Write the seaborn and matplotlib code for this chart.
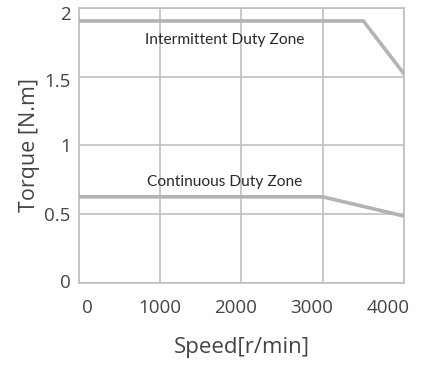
import matplotlib
matplotlib.use("Agg")
import matplotlib.pyplot as plt
import matplotlib.transforms as mtrans
import seaborn as sns
import pandas as pd

# Data
intermittent_speed = [0, 3500, 4000]
intermittent_torque = [1.905, 1.905, 1.52]
continuous_speed = [0, 3000, 4000]
continuous_torque = [0.625, 0.625, 0.485]
x_ticks = [0, 1000, 2000, 3000, 4000]
y_ticks = [0, 0.5, 1, 1.5, 2]
y_tick_labels = ["0", "0.5", "1", "1.5", "2"]

df = pd.concat([
    pd.DataFrame({"speed": intermittent_speed, "torque": intermittent_torque, "zone": "Intermittent"}),
    pd.DataFrame({"speed": continuous_speed, "torque": continuous_torque, "zone": "Continuous"}),
])

sns.set_theme(style="white")
plt.rcParams["font.family"] = ["Open Sans", "DejaVu Sans"]

fig = plt.figure(figsize=(4.22, 3.67), dpi=100)
ax = fig.add_axes([0.1872, 0.2297, 0.7701, 0.7488])

line_color = "#b3b3b3"
grid_color = "#c0c0c0"
text_color = "#444444"

sns.lineplot(data=df, x="speed", y="torque", units="zone", estimator=None,
             color=line_color, linewidth=2.6, ax=ax, legend=False, zorder=3)

ax.set_xlim(0, 4000)
ax.set_ylim(0, 2)
ax.set_xticks(x_ticks)
ax.set_xticklabels([str(v) for v in x_ticks], fontsize=13.5, color=text_color)
ax.set_yticks(y_ticks)
ax.set_yticklabels(y_tick_labels, fontsize=13.5, color=text_color)
ax.tick_params(axis="both", length=0)
ax.tick_params(axis="x", pad=12)
ax.tick_params(axis="y", pad=6)

# shift tick labels like the reference
x_offsets = [8.5, 0, -6, -11.5, -16]
for lab, dx in zip(ax.get_xticklabels(), x_offsets):
    lab.set_transform(lab.get_transform() + mtrans.ScaledTranslation(dx / 100, 0, fig.dpi_scale_trans))
y_offsets = [2, 0, 0, -3, -5]
for lab, dy in zip(ax.get_yticklabels(), y_offsets):
    lab.set_transform(lab.get_transform() + mtrans.ScaledTranslation(0, dy / 100, fig.dpi_scale_trans))

ax.grid(True, color=grid_color, linewidth=1.2)
for s in ax.spines.values():
    s.set_color(grid_color)
    s.set_linewidth(1.2)

ax.set_xlabel("Speed[r/min]", fontsize=16, color=text_color, labelpad=14)
ax.set_ylabel("Torque [N.m]", fontsize=15.5, color=text_color, labelpad=3)

ax.text(1790, 1.766, "Intermittent Duty Zone", ha="center", va="center",
        fontsize=11.2, color="#2a2a2a", family=["Lato", "DejaVu Sans"])
ax.text(1790, 0.733, "Continuous Duty Zone", ha="center", va="center",
        fontsize=11.2, color="#2a2a2a", family=["Lato", "DejaVu Sans"])

fig.savefig("out.png", dpi=100)
